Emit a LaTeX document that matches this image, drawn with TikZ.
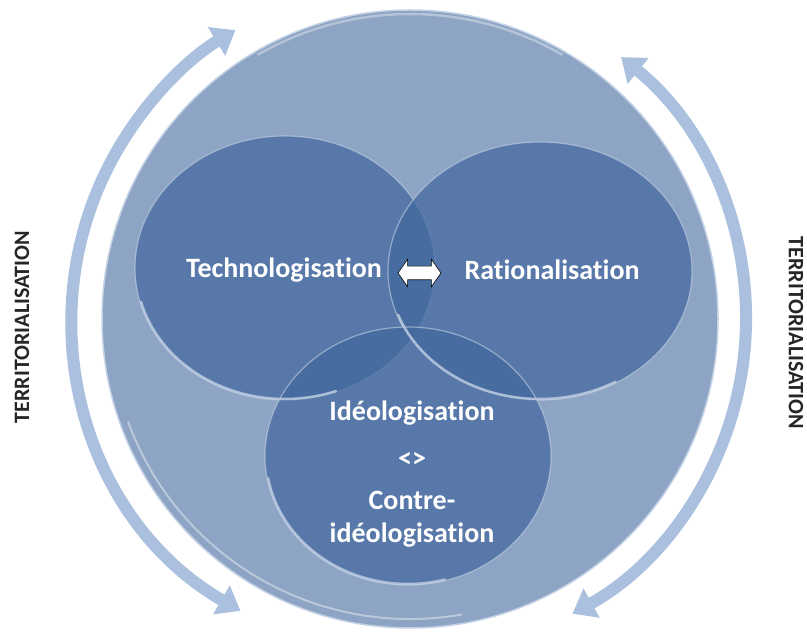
\documentclass[tikz,border=0pt]{standalone}
\usepackage{fontspec}
\setmainfont{Carlito}[RawFeature=-liga]
\usepackage{tikz}
\usetikzlibrary{shapes.geometric,shapes.arrows,arrows.meta,calc,positioning}

\definecolor{bigblue}{RGB}{142,164,196}
\definecolor{innerblue}{RGB}{66,104,158}
\definecolor{rimblue}{RGB}{196,210,230}
\definecolor{bandblue}{RGB}{170,192,222}

\begin{document}
\begin{tikzpicture}[x=1pt,y=1pt,
    bubble/.style={ellipse, fill=innerblue, fill opacity=0.72, draw=rimblue, draw opacity=0.6, line width=1.2pt, inner sep=0pt},
    rim/.style={draw=rimblue, line width=2.5pt, opacity=0.8, line cap=round},
    band/.style={line width=12pt, draw=bandblue, {Triangle[width=32pt,length=22pt]}-{Triangle[width=32pt,length=22pt]}},
    word/.style={text=white, font=\bfseries\fontsize{28}{33}\selectfont, align=center, inner sep=0pt},
    sideword/.style={text=black!85, font=\bfseries\fontsize{22}{26}\selectfont, inner sep=0pt}
  ]
    \fill[white] (0,0) rectangle (807,632);
    \useasboundingbox (0,0) rectangle (807,632);

    %coordinates
    \coordinate (orig) at (0,0);
    \coordinate (mid)  at (410,313);
    \coordinate (arcC) at (409,313);

    \coordinate (TE) at (285,364);
    \coordinate (RA) at ($(TE) + (255,-3)$);
    \coordinate (ID) at ($(TE) + (123,-188)$);

    \coordinate (L0) at ($(arcC) + (240:337)$);
    \coordinate (R0) at ($(arcC) + (51:337)$);

    %nodes
    \node[ellipse, fill=bigblue, draw=rimblue, line width=1.5pt, minimum width=616pt, minimum height=618pt] (big) at (mid) {};
    \draw[white, line width=2pt, opacity=0.4] ($(mid) + (200:300)$) arc[start angle=200, end angle=280, radius=300];
    \draw[white, line width=2.5pt, opacity=0.35] ($(mid) + (60:305)$) arc[start angle=60, end angle=120, radius=305];

    \node[bubble, minimum width=300pt, minimum height=264pt] (techno) at (TE) {};
    \node[bubble, minimum width=304pt, minimum height=258pt] (ratio) at (RA) {};
    \node[bubble, minimum width=286pt, minimum height=258pt] (ideo) at (ID) {};

    \draw[rim] ($(TE) + (195:149 and 131)$) arc[start angle=195, end angle=290, x radius=149, y radius=131];
    \draw[rim] ($(RA) + (200:151 and 128)$) arc[start angle=200, end angle=300, x radius=151, y radius=128];
    \draw[rim] ($(ID) + (190:142 and 128)$) arc[start angle=190, end angle=285, x radius=142, y radius=128];

    \node[word] (technoText) at ($(TE) + (-1,-2)$) {Technologisation};
    \node[word] (ratioText) at ($(RA) + (12,1)$) {Rationalisation};
    \node[word] (ideoText) at ($(ID) + (4,-18)$) {Idéologisation\\[14pt]<>\\[9pt]Contre-\\idéologisation};

    \node[double arrow, draw=black, fill=white, line width=0.6pt, inner xsep=0pt, inner ysep=6.5pt,
          minimum height=43pt, double arrow head extend=7pt,
          double arrow tip angle=110] (swap) at (419.5,359) {};

    \node[sideword, rotate=90] (terrL) at (22,305) {TERRITORIALISATION};
    \node[sideword, rotate=-90] (terrR) at (796,299) {TERRITORIALISATION};

    %edges
    \draw[band] (L0) arc[start angle=240, end angle=121, radius=337];
    \draw[band] (R0) arc[start angle=51, end angle=-61, radius=337];
  \end{tikzpicture}
\end{document}
